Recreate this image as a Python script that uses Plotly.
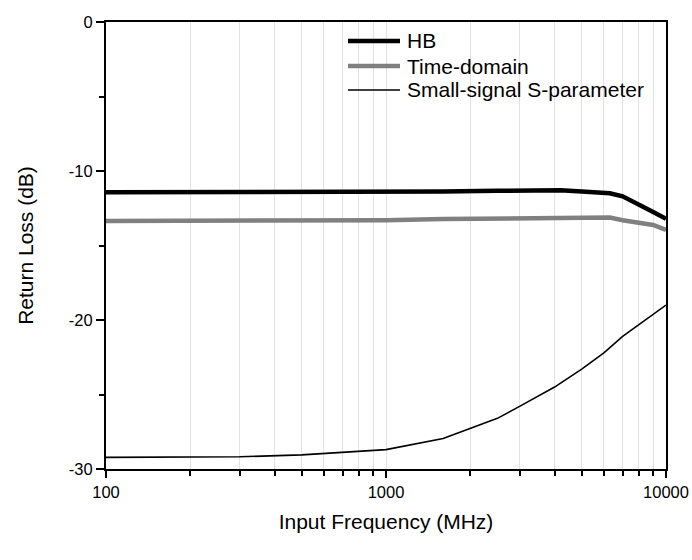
import plotly.graph_objects as go

# Input frequency (MHz) and return loss (dB) for each simulation
freq_hb = [100, 200, 500, 1000, 1600, 2500, 4200, 5000, 6300, 7000, 8000, 9000, 10000]
rl_hb = [-11.42, -11.42, -11.42, -11.42, -11.38, -11.33, -11.3, -11.38, -11.5, -11.7, -12.3, -12.75, -13.2]

freq_td = [100, 200, 500, 1000, 1600, 2500, 4200, 6300, 7000, 8000, 9000, 10000]
rl_td = [-13.35, -13.34, -13.32, -13.3, -13.22, -13.18, -13.12, -13.12, -13.3, -13.5, -13.62, -13.95]

freq_ss = [100, 200, 300, 500, 700, 1000, 1600, 2500, 3000, 4000, 5000, 6000, 7000, 8000, 10000]
rl_ss = [-29.22, -29.2, -29.18, -29.05, -28.9, -28.7, -27.95, -26.6, -25.8, -24.5, -23.3, -22.2, -21.1, -20.3, -19.0]

series_names = ["HB", "Time-domain", "Small-signal S-parameter"]
series_styles = [dict(color="black", width=4.5),
                 dict(color="#808080", width=4.5),
                 dict(color="black", width=1.6)]

x_ticks = [100, 1000, 10000]
x_ticklabels = ["100", "1000", "10000"]
y_ticks = [-30, -20, -10, 0]
y_ticklabels = ["-30", "-20", "-10", "0"]

FONT = "Liberation Sans, Arial, sans-serif"
W, H = 692, 560
ML, MR, MT, MB = 106, 26, 22, 91

fig = go.Figure()
for fx, ry, name, style in zip([freq_hb, freq_td, freq_ss], [rl_hb, rl_td, rl_ss],
                               series_names, series_styles):
    fig.add_trace(go.Scatter(x=fx, y=ry, mode="lines", name=name, line=style,
                             showlegend=False))

# Legend drawn inside the plot area: line sample followed by its label
pw, ph = W - ML - MR, H - MT - MB
leg_x0, leg_x1, leg_tx = 348, 400, 405
leg_rows = [41, 66, 90]
for name, style, yc in zip(series_names, series_styles, leg_rows):
    yp = 1 - (yc - MT) / ph
    fig.add_shape(type="line", xref="paper", yref="paper",
                  x0=(leg_x0 - ML) / pw, x1=(leg_x1 - ML) / pw, y0=yp, y1=yp,
                  line=style)
    fig.add_annotation(xref="paper", yref="paper", x=(leg_tx - ML) / pw, y=yp,
                       xanchor="left", yanchor="middle", showarrow=False,
                       text=name, font=dict(family=FONT, size=21, color="black"))

fig.update_layout(
    width=W, height=H,
    margin=dict(l=ML, r=MR, t=MT, b=MB),
    paper_bgcolor="white", plot_bgcolor="white",
    font=dict(family=FONT, size=16.5, color="black"),
    showlegend=False,
    xaxis=dict(
        type="log", range=[2, 4], automargin=False,
        tickvals=x_ticks, ticktext=x_ticklabels,
        ticks="outside", ticklen=7, tickwidth=1.5, tickcolor="black",
        showline=True, linecolor="black", linewidth=2, mirror=True,
        showgrid=False, zeroline=False,
        minor=dict(tickvals=[200, 300, 400, 500, 600, 700, 800, 900, 1000,
                             2000, 3000, 4000, 5000, 6000, 7000, 8000, 9000],
                   ticks="outside", ticklen=5, tickwidth=1.5, tickcolor="black",
                   showgrid=True, gridcolor="#e2e2e2", gridwidth=1),
        title=dict(text="Input Frequency (MHz)", font=dict(family=FONT, size=21)),
        tickfont=dict(family=FONT, size=16.5),
    ),
    yaxis=dict(
        range=[-30, 0], automargin=True,
        tickvals=y_ticks, ticktext=y_ticklabels,
        ticks="outside", ticklen=8, tickwidth=1.5, tickcolor="black",
        showline=True, linecolor="black", linewidth=2, mirror=True,
        showgrid=False, zeroline=False,
        minor=dict(tickvals=[-25, -15, -5], ticks="outside", ticklen=5,
                   tickwidth=1.5, tickcolor="black", showgrid=False),
        title=dict(text="Return Loss (dB)", font=dict(family=FONT, size=21), standoff=29),
        tickfont=dict(family=FONT, size=16.5),
    ),
)

fig.write_html("out.html")
